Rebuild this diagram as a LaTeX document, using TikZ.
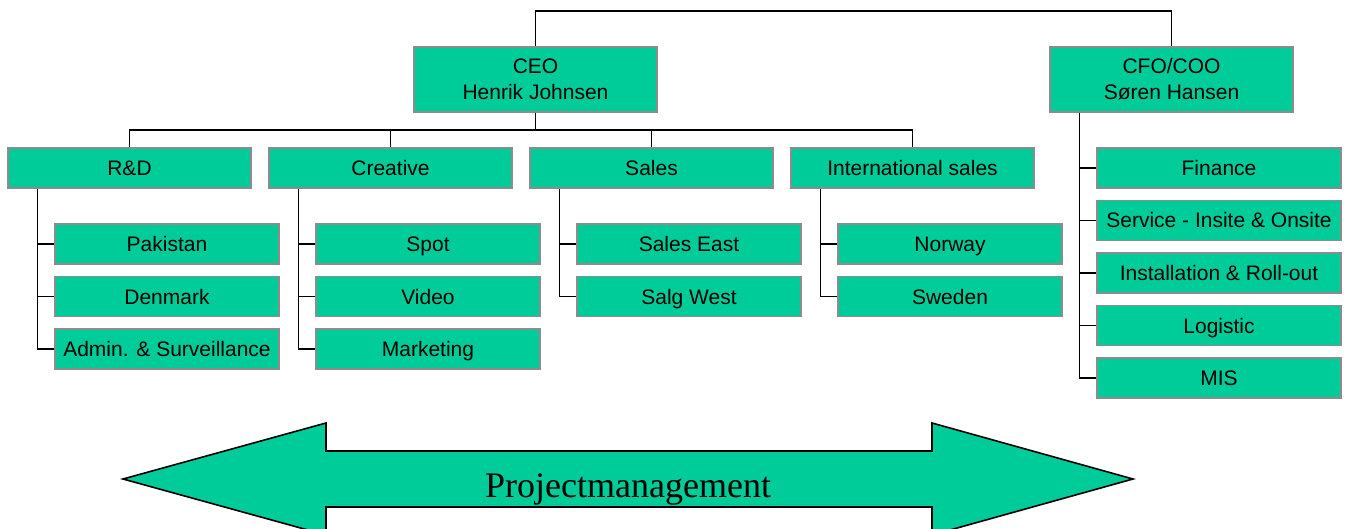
\documentclass[tikz,border=0pt]{standalone}
\usepackage{fontspec}
\setmainfont{Liberation Serif}
\newfontfamily\boxfont{Liberation Sans}
\definecolor{boxgreen}{HTML}{00CC99}
\definecolor{boxedge}{HTML}{8C8C8C}
\tikzset{
  unit/.style={draw=boxedge, line width=1.6pt, fill=boxgreen, inner sep=0pt,
    font=\boxfont\fontsize{21}{26}\selectfont, text=black, align=center},
  oneline/.style={unit, text height=15pt, text depth=0pt},
  headbox/.style={unit, minimum width=243pt, minimum height=65pt},
  deptbox/.style={oneline, minimum width=243pt, minimum height=40pt},
  subbox/.style={oneline, minimum width=224pt, minimum height=40pt},
  staffbox/.style={oneline, minimum width=244pt, minimum height=40pt},
  link/.style={draw=black, line width=1.4pt},
}
\begin{document}
\begin{tikzpicture}[x=1pt, y=-1pt]
\useasboundingbox (0,0) rectangle (1346,529);

% management
\node[headbox] (ceo) at (535.5,79.5) {CEO\\Henrik Johnsen};
\node[headbox] (cfo) at (1171.5,79.5) {CFO/COO\\Søren Hansen};

% departments
\node[deptbox] (rd)   at (129.5,168) {R\&D};
\node[deptbox] (cre)  at (390.5,168) {Creative};
\node[deptbox] (sal)  at (651.5,168) {Sales};
\node[deptbox] (intl) at (912.5,168) {International sales};

% R&D units
\node[subbox] (pak) at (167,244)   {Pakistan};
\node[subbox] (den) at (167,296.5) {Denmark};
\node[subbox] (adm) at (167,349)   {Admin. \& Surveillance};
% Creative units
\node[subbox] (spot) at (428,244)   {Spot};
\node[subbox] (vid)  at (428,296.5) {Video};
\node[subbox] (mkt)  at (428,349)   {Marketing};
% Sales units
\node[subbox] (east) at (689,244)   {Sales East};
\node[subbox] (west) at (689,296.5) {Salg West};
% International units
\node[subbox] (nor) at (950,244)   {Norway};
\node[subbox] (swe) at (950,296.5) {Sweden};

% CFO/COO units
\node[staffbox] (fin) at (1219,168)   {Finance};
\node[staffbox] (srv) at (1219,220.5) {Service - Insite \& Onsite};
\node[staffbox] (ins) at (1219,273)   {Installation \& Roll-out};
\node[staffbox] (log) at (1219,325.5) {Logistic};
\node[staffbox] (mis) at (1219,378)   {MIS};

% connector levels
\coordinate (top) at (0,11);
\coordinate (bus) at (0,130);
\coordinate (rdstem)  at ([xshift=30pt]rd.south west);
\coordinate (crestem) at ([xshift=30pt]cre.south west);
\coordinate (salstem) at ([xshift=30pt]sal.south west);
\coordinate (intstem) at ([xshift=30pt]intl.south west);
\coordinate (cfostem) at ([xshift=30pt]cfo.south west);

% CEO to CFO/COO
\draw[link] (ceo.north) -- (ceo.north |- top) -| (cfo.north);

% CEO to departments
\draw[link] (ceo.south) -- (ceo.south |- bus);
\draw[link] (rd.north) -- (rd.north |- bus) -- (intl.north |- bus) -- (intl.north);
\draw[link] (cre.north) -- (cre.north |- bus);
\draw[link] (sal.north) -- (sal.north |- bus);

% departments to units
\draw[link] (rdstem) |- (adm.west);
\draw[link] (pak.west) -- (pak.west -| rdstem);
\draw[link] (den.west) -- (den.west -| rdstem);

\draw[link] (crestem) |- (mkt.west);
\draw[link] (spot.west) -- (spot.west -| crestem);
\draw[link] (vid.west) -- (vid.west -| crestem);

\draw[link] (salstem) |- (west.west);
\draw[link] (east.west) -- (east.west -| salstem);

\draw[link] (intstem) |- (swe.west);
\draw[link] (nor.west) -- (nor.west -| intstem);

\draw[link] (cfostem) |- (mis.west);
\draw[link] (fin.west) -- (fin.west -| cfostem);
\draw[link] (srv.west) -- (srv.west -| cfostem);
\draw[link] (ins.west) -- (ins.west -| cfostem);
\draw[link] (log.west) -- (log.west -| cfostem);

% project management double arrow
\draw[line width=1.6pt, line join=miter, fill=boxgreen]
  (123,479) -- (326,423) -- (326,451) -- (932,451) -- (932,423) -- (1133,479)
  -- (932,535) -- (932,507) -- (326,507) -- (326,535) -- cycle;
\node[anchor=base, inner sep=0pt, font=\fontsize{36}{40}\selectfont] (pm) at (628,497) {Projectmanagement};
\end{tikzpicture}
\end{document}
